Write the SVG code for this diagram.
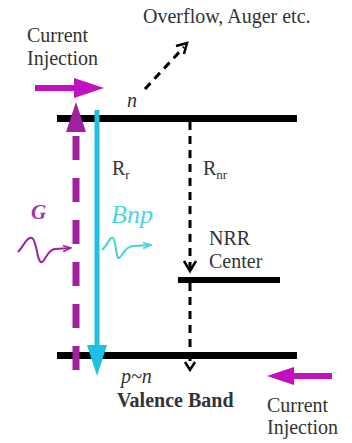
<svg xmlns="http://www.w3.org/2000/svg" width="352" height="443" viewBox="0 0 352 443">
<defs>
<style>
.t{font-family:"Liberation Serif","Times New Roman",serif;fill:#333;font-size:20px}
.bar{stroke:#000;stroke-width:7;fill:none}
.dash{stroke:#000;stroke-width:3;fill:none;stroke-dasharray:8 6}
.chev{stroke:#000;stroke-width:2.5;fill:none}
</style>
<marker id="mMag" viewBox="0 0 10 10" refX="9" refY="5" markerWidth="5" markerHeight="5" orient="auto" markerUnits="strokeWidth">
<path d="M1,2 L9,5 L1,8" fill="none" stroke="#a020a0" stroke-width="1.5"/>
</marker>
<marker id="mCyan" viewBox="0 0 10 10" refX="9" refY="5" markerWidth="5" markerHeight="5" orient="auto" markerUnits="strokeWidth">
<path d="M1,2 L9,5 L1,8" fill="none" stroke="#40d4e0" stroke-width="1.5"/>
</marker>
</defs>
<rect width="352" height="443" fill="#fff"/>

<g id="conduction-band"><line class="bar" x1="57" y1="118.5" x2="297" y2="118.5"/></g>
<g id="valence-band-line"><line class="bar" x1="57" y1="355.5" x2="297" y2="355.5"/></g>
<g id="nrr-center-level"><line x1="178" y1="280" x2="280" y2="280" stroke="#000" stroke-width="6"/></g>

<g id="connectors">
<!-- overflow dashed arrow -->
<line x1="145" y1="89" x2="184" y2="47" stroke="#000" stroke-width="3" stroke-dasharray="8 6"/>
<path d="M176,46 L187,43 L184,54" class="chev"/>
<!-- Rnr dashed -->
<line class="dash" x1="190" y1="122" x2="190" y2="270"/>
<path d="M184,261 L190,271 L196,261" class="chev"/>
<line class="dash" x1="190" y1="283" x2="190" y2="368"/>
<path d="M185,362 L190,370 L195,362" class="chev"/>
<!-- magenta dashed G line -->
<line x1="76" y1="370" x2="76" y2="130" stroke="#a020a0" stroke-width="7" stroke-dasharray="24 18"/>
<polygon points="76,102 66,132 86,132" fill="#a020a0"/>
<!-- cyan radiative line -->
<line x1="97" y1="110" x2="97" y2="348" stroke="#1ec0e8" stroke-width="5"/>
<polygon points="97,376 87,345 107,345" fill="#1ec0e8"/>
<!-- current injection arrows -->
<line x1="35" y1="88" x2="78" y2="88" stroke="#c010c0" stroke-width="6"/>
<polygon points="104,88 74,78 74,98" fill="#c010c0"/>
<line x1="332" y1="376" x2="290" y2="376" stroke="#c010c0" stroke-width="6"/>
<polygon points="267,376 294,367 294,385" fill="#c010c0"/>
<!-- photon waves -->
<path d="M18,252 C24,246 27,236 32,238 C37,240 37,264 42,262 C46,260 47,250 55,249 L71,248" fill="none" stroke="#a020a0" stroke-width="2" marker-end="url(#mMag)"/>
<path d="M102,250 C107,246 110,236 113,238 C116,240 116,260 119,258 C123,256 124,247 133,246 L151,245" fill="none" stroke="#40d4e0" stroke-width="2" marker-end="url(#mCyan)"/>
</g>

<g id="labels">
<text class="t" x="27" y="42">Current</text>
<text class="t" x="27" y="65">Injection</text>
<text class="t" x="143" y="23">Overflow, Auger etc.</text>
<text class="t" x="127" y="107" font-style="italic">n</text>
<text class="t" x="112" y="175" font-size="19">R<tspan font-size="13" dy="4">r</tspan></text>
<text class="t" x="203" y="175" font-size="19">R<tspan font-size="13" dy="4">nr</tspan></text>
<text x="31" y="219" font-family="Liberation Serif,serif" font-size="21" font-style="italic" font-weight="bold" fill="#a830b0">G</text>
<text x="111" y="223" font-family="Liberation Serif,serif" font-size="26" font-style="italic" fill="#4cd6e0">Bnp</text>
<text class="t" x="209" y="245" font-size="18">NRR</text>
<text class="t" x="209" y="268" font-size="18">Center</text>
<text class="t" x="121" y="383" font-size="24" font-style="italic">p~n</text>
<text class="t" x="117" y="407" font-weight="bold" fill="#222">Valence Band</text>
<text class="t" x="267" y="412">Current</text>
<text class="t" x="267" y="434">Injection</text>
</g>
</svg>
